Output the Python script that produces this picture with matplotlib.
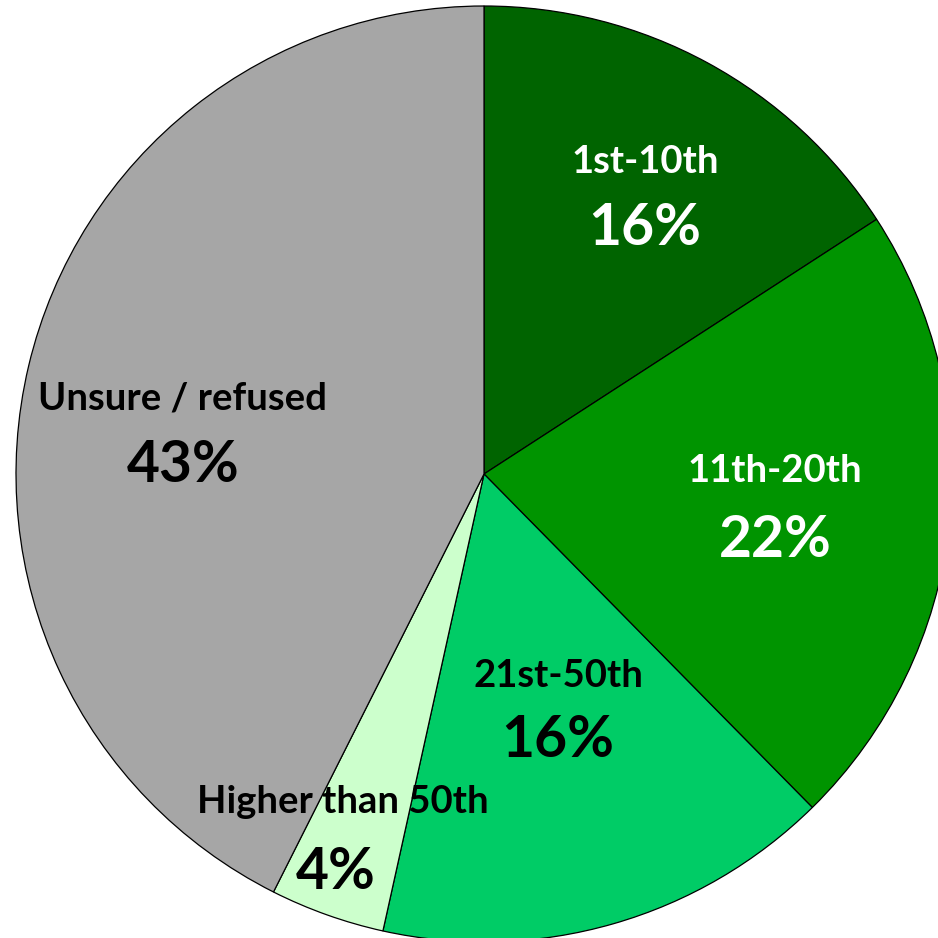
import matplotlib
matplotlib.use("Agg")
import matplotlib.pyplot as plt

categories = ["1st-10th", "11th-20th", "21st-50th", "Higher than 50th", "Unsure / refused"]
values = [16, 22, 16, 4, 43]
pct_labels = ["16%", "22%", "16%", "4%", "43%"]

colors = ["#006400", "#009400", "#00cc66", "#ccffcc", "#a6a6a6"]
text_colors = ["white", "white", "black", "black", "black"]
# label centre positions in pixel coordinates (x, y from top)
label_pos = [(645, 162), (775, 471), (558, 676), (343, 802), (183, 398)]
pct_pos = [(645, 228), (775, 540), (558, 740), (336, 872), (183, 465)]

W = H = 938
fig = plt.figure(figsize=(W / 100, H / 100), dpi=100)
ax = fig.add_axes([0, 0, 1, 1])

cx, cy, R = 484, H - 474, 468
ax.pie(values, colors=colors, startangle=90, counterclock=False,
       center=(cx, cy), radius=R, frame=True,
       wedgeprops=dict(edgecolor="black", linewidth=0.9))
ax.set_xlim(0, W)
ax.set_ylim(0, H)
ax.set_aspect("equal")
ax.axis("off")

font = "Lato"
for cat, pct, tc, (lx, ly), (px, py) in zip(categories, pct_labels, text_colors, label_pos, pct_pos):
    ax.text(lx, H - ly, cat, ha="center", va="center", color=tc,
            fontsize=27.5, fontweight="bold", family=font)
    ax.text(px, H - py, pct, ha="center", va="center", color=tc,
            fontsize=41, fontweight="bold", family=font)

fig.savefig("out.png", dpi=100)
